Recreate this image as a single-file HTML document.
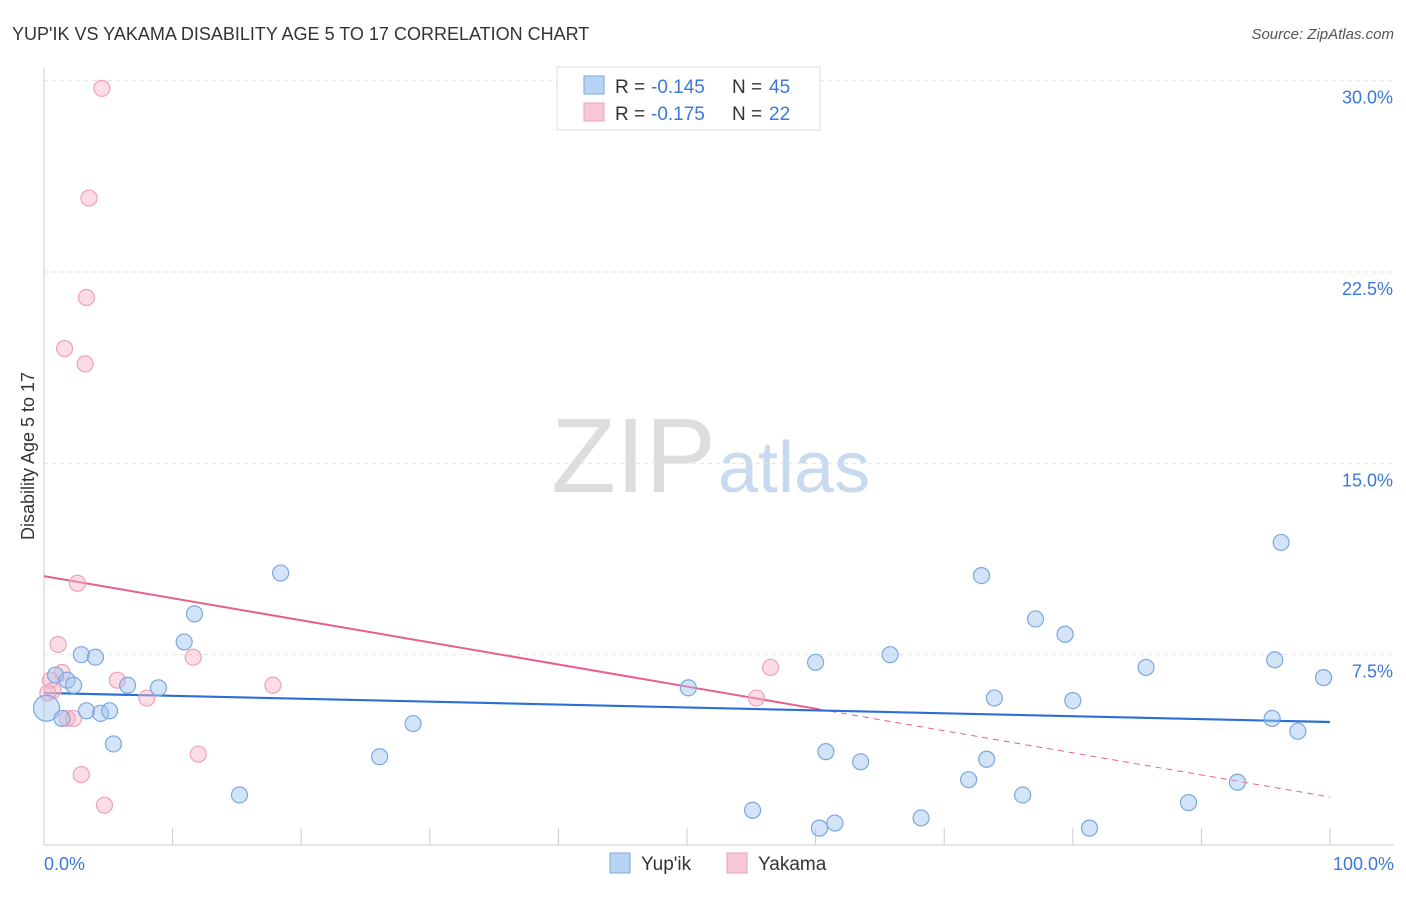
<!DOCTYPE html>
<html><head><meta charset="utf-8"><style>
body{margin:0;background:#fff;font-family:"Liberation Sans",sans-serif;}
svg text{font-family:"Liberation Sans",sans-serif;}
</style></head><body>
<svg id="c" width="1406" height="892" xmlns="http://www.w3.org/2000/svg">
<text x="12" y="40" font-size="18" fill="#333">YUP'IK VS YAKAMA DISABILITY AGE 5 TO 17 CORRELATION CHART</text>
<text x="1394" y="39" font-size="15" fill="#555" font-style="italic" text-anchor="end">Source: ZipAtlas.com</text>
<text x="34" y="456" font-size="18" fill="#333" text-anchor="middle" transform="rotate(-90 34 456)">Disability Age 5 to 17</text>
<text x="716" y="492" font-size="106" fill="#ddd" font-family="Liberation Serif" text-anchor="end">ZIP</text>
<text x="718" y="492" font-size="72" fill="#c8daf0">atlas</text>
<g id="grid"></g><g id="axes"></g><g id="trend"></g><g id="pts"></g>
<g>
<rect x="557" y="67" width="263" height="63" fill="#fff" stroke="#ddd"/>
<rect x="584" y="76" width="20" height="18" fill="#b8d4f5" stroke="#7aa7e0"/>
<rect x="584" y="103" width="20" height="18" fill="#f9c8d6" stroke="#f0a0b8"/>
<text x="615" y="93" font-size="19" fill="#333">R = </text>
<text x="651" y="93" font-size="19" fill="#3b78d8">-0.145</text>
<text x="732" y="93" font-size="19" fill="#333">N = </text>
<text x="769" y="93" font-size="19" fill="#3b78d8">45</text>
<text x="615" y="120" font-size="19" fill="#333">R = </text>
<text x="651" y="120" font-size="19" fill="#3b78d8">-0.175</text>
<text x="732" y="120" font-size="19" fill="#333">N = </text>
<text x="769" y="120" font-size="19" fill="#3b78d8">22</text>
</g>
<g>
<rect x="610" y="853" width="20" height="20" fill="#b8d4f5" stroke="#7aa7e0"/>
<text x="641" y="870" font-size="19" fill="#333">Yup'ik</text>
<rect x="727" y="853" width="20" height="20" fill="#f9c8d6" stroke="#f0a0b8"/>
<text x="758" y="870" font-size="19" fill="#333">Yakama</text>
</g>
</svg>
<script>
const yTicks=[7.5,15,22.5,30];
const yTickLabels=["7.5%","15.0%","22.5%","30.0%"];
const xTickLabels=["0.0%","100.0%"];
const yupikX=[0.2,0.9,1.4,1.8,2.3,2.9,3.3,4.0,4.4,5.1,5.4,6.5,8.9,10.9,11.7,15.2,18.4,26.1,28.7,50.1,55.1,60.0,60.3,60.8,61.5,63.5,65.8,68.2,71.9,72.9,73.3,73.9,76.1,77.1,79.4,80.0,81.3,85.7,89.0,92.8,95.5,95.7,96.2,97.5,99.5];
const yupikY=[5.4,6.7,5.0,6.5,6.3,7.5,5.3,7.4,5.2,5.3,4.0,6.3,6.2,8.0,9.1,2.0,10.7,3.5,4.8,6.2,1.4,7.2,0.7,3.7,0.9,3.3,7.5,1.1,2.6,10.6,3.4,5.8,2.0,8.9,8.3,5.7,0.7,7.0,1.7,2.5,5.0,7.3,11.9,4.5,6.6];
const yakamaX=[4.5,3.5,3.3,1.6,3.2,2.6,1.1,1.4,0.5,0.7,0.3,5.7,8.0,11.6,12.0,17.8,1.8,2.3,2.9,4.7,56.5,55.4];
const yakamaY=[29.7,25.4,21.5,19.5,18.9,10.3,7.9,6.8,6.5,6.1,6.0,6.5,5.8,7.4,3.6,6.3,5.0,5.0,2.8,1.6,7.0,5.8];
const yupikTrend=[6.0,4.86];
const yakamaTrend=[10.58,1.92];
const yakamaSolidEnd=60.3;
const NS="http://www.w3.org/2000/svg";
const X=v=>44+v*12.86, Y=v=>846-v*25.51;
function mk(p,t,a){const e=document.createElementNS(NS,t);for(const k in a)e.setAttribute(k,a[k]);p.appendChild(e);return e;}
const grid=document.getElementById('grid'),axes=document.getElementById('axes'),tr=document.getElementById('trend'),pts=document.getElementById('pts');
yTicks.forEach((t,i)=>{
 const l=mk(grid,'line',{x1:44,x2:1394,y1:Y(t),y2:Y(t),stroke:'#e2e2e2','stroke-dasharray':'4,4'});
 
 
 const tx=mk(grid,'text',{x:1393,y:Y(t)+23,'font-size':18,fill:'#3b78d8','text-anchor':'end'});
 tx.textContent=yTickLabels[i];
 
 
});
const ax=mk(axes,'line',{x1:44,x2:44,y1:68,y2:845,stroke:'#ccc'});


const bx=mk(axes,'line',{x1:44,x2:1394,y1:845,y2:845,stroke:'#ccc'});


for(let i=0;i<=10;i++){
 const t=mk(axes,'line',{x1:X(i*10),x2:X(i*10),y1:828,y2:845,stroke:'#ccc'});
 
 
}
[[0,'start',44],[100,'end',1394]].forEach((d,i)=>{
 const t=mk(axes,'text',{x:d[2],y:870,'font-size':18,fill:'#3b78d8','text-anchor':d[1]});
 t.textContent=xTickLabels[i];
 
 
});
const s=yakamaTrend[0]+(yakamaTrend[1]-yakamaTrend[0])*yakamaSolidEnd/100;
const p1=mk(tr,'line',{x1:X(0),y1:Y(yakamaTrend[0]),x2:X(yakamaSolidEnd),y2:Y(s),stroke:'#e8608a','stroke-width':2});


const p2=mk(tr,'line',{x1:X(yakamaSolidEnd),y1:Y(s),x2:X(100),y2:Y(yakamaTrend[1]),stroke:'#e8608a','stroke-width':1,'stroke-dasharray':'6,5'});


const b1=mk(tr,'line',{x1:X(0),y1:Y(yupikTrend[0]),x2:X(100),y2:Y(yupikTrend[1]),stroke:'#2b6fd6','stroke-width':2.2});


yakamaX.forEach((x,i)=>{
 const c=mk(pts,'circle',{cx:X(x),cy:Y(yakamaY[i]),r:8,fill:'rgba(248,180,200,0.45)',stroke:'#f0a0b8','stroke-width':1.2});
 
 
});
yupikX.forEach((x,i)=>{
 const c=mk(pts,'circle',{cx:X(x),cy:Y(yupikY[i]),r:i===0?13:8,fill:'rgba(160,196,240,0.45)',stroke:'#7aa7e0','stroke-width':1.2});
 
 
});
</script>
</body></html>
